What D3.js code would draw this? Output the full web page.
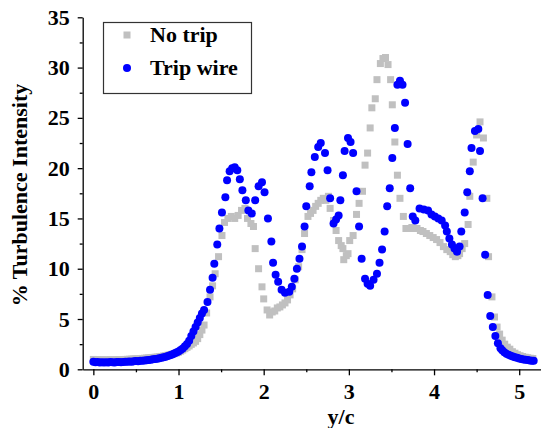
<!DOCTYPE html>
<html>
<head>
<meta charset="utf-8">
<script src="https://cdn.jsdelivr.net/npm/d3@7"></script>
<style>
  html, body { margin: 0; padding: 0; background: #fff; }
  svg { display: block; }
  text { font-family: "Liberation Serif", "Times New Roman", serif; font-weight: bold; fill: #000; }
</style>
</head>
<body>
<svg id="chart" width="552" height="428"></svg>
<script>
// Axis ticks
const xMajorTicks = [0, 1, 2, 3, 4, 5];
const xMinorTicks = [0.5, 1.5, 2.5, 3.5, 4.5];
const yMajorTicks = [0, 5, 10, 15, 20, 25, 30, 35];
const yMinorTicks = [2.5, 7.5, 12.5, 17.5, 22.5, 27.5, 32.5];

// Series names
const seriesNames = ["No trip", "Trip wire"];

// Trip wire: spanwise position y/c and turbulence intensity (%)
const tripPos = [
  0.000,0.025,0.050,0.075,0.100,0.125,0.150,0.175,0.200,0.225,0.250,0.275,0.300,0.325,0.350,0.375,0.400,0.425,0.450,0.475,
  0.500,0.525,0.550,0.575,0.600,0.625,0.650,0.675,0.700,0.725,0.750,0.775,0.800,0.825,0.850,0.875,0.900,0.925,0.950,0.975,
  1.000,1.025,1.050,1.075,1.100,1.125,1.150,1.175,1.200,1.225,1.250,1.275,1.300,
  1.34,1.37,1.40,1.42,1.455,1.48,1.51,1.55,1.57,1.60,1.63,1.66,1.69,1.72,1.75,1.79,1.82,1.86,1.90,1.94,1.98,
  2.01,2.05,2.09,2.11,2.14,2.17,2.21,2.25,2.30,2.33,2.36,2.39,2.42,2.45,2.48,2.50,2.54,2.56,2.60,2.64,2.67,2.72,2.75,2.78,
  2.82,2.85,2.88,2.90,2.93,2.95,2.99,3.02,3.05,3.09,3.12,3.15,3.19,3.22,3.25,3.29,3.33,3.36,3.39,3.42,3.45,3.48,3.51,3.54,
  3.57,3.60,3.63,3.66,3.69,3.72,3.75,3.78,3.83,3.88,3.93,3.97,4.01,4.05,4.09,4.13,4.15,4.18,4.21,4.24,4.27,4.30,4.32,4.36,
  4.39,4.42,4.44,4.48,4.52,4.54,4.57,4.60,4.63,4.66,4.69,4.72,4.75,4.78,4.80,4.825,4.85,4.875,4.90,4.925,4.95,4.975,
  5.00,5.025,5.05,5.075,5.10,5.125,5.15,5.17
];
const tripTI = [
  0.74,0.70,0.72,0.68,0.71,0.67,0.70,0.68,0.72,0.69,0.68,0.72,0.73,0.70,0.72,0.75,0.74,0.77,0.76,0.79,
  0.82,0.80,0.84,0.85,0.88,0.90,0.93,0.95,0.99,1.02,1.06,1.10,1.15,1.20,1.26,1.33,1.40,1.48,1.57,1.67,
  1.78,1.92,2.08,2.28,2.52,2.85,3.30,3.75,4.20,4.65,5.10,5.55,5.90,
  6.7,7.9,9.1,10.5,12.4,14.0,15.6,17.1,18.8,19.7,20.0,20.1,19.8,18.9,17.8,16.8,15.8,15.5,16.8,18.2,18.6,
  17.6,15.0,12.7,10.6,9.4,8.7,7.9,7.6,7.7,8.2,9.0,10.0,11.0,12.2,14.2,16.2,18.2,19.6,21.1,22.1,22.5,21.5,19.8,17.0,
  14.5,14.9,15.3,16.8,19.3,21.7,23.0,22.6,21.5,17.7,14.2,11.0,9.0,8.5,8.3,8.9,9.5,10.6,11.9,13.7,16.2,18.0,21.0,24.0,
  28.3,28.7,28.3,26.5,22.4,18.0,15.2,14.8,16.0,15.9,15.8,15.4,15.2,15.0,14.8,14.3,13.7,13.0,12.4,12.0,11.7,12.2,13.7,15.6,
  17.6,19.7,22.0,23.7,23.9,21.7,17.0,11.4,7.4,5.3,4.2,3.3,2.6,2.1,1.9,1.7,1.55,1.45,1.35,1.28,1.20,1.14,
  1.08,1.02,0.98,0.94,0.92,0.88,0.86,0.84
];

// No trip: spanwise position y/c and turbulence intensity (%)
const noTripPos = [
  0.000,0.025,0.050,0.075,0.100,0.125,0.150,0.175,0.200,0.225,0.250,0.275,0.300,0.325,0.350,0.375,0.400,0.425,0.450,0.475,
  0.500,0.525,0.550,0.575,0.600,0.625,0.650,0.675,0.700,0.725,0.750,0.775,0.800,0.825,0.850,0.875,0.900,0.925,0.950,0.975,
  1.000,1.025,1.050,1.075,1.100,1.125,1.150,1.175,1.200,1.225,1.250,1.275,1.300,
  1.33,1.37,1.40,1.43,1.47,1.51,1.54,1.58,1.62,1.66,1.70,1.74,1.78,1.81,1.85,1.88,1.90,1.94,1.98,
  2.00,2.04,2.07,2.10,2.13,2.16,2.19,2.22,2.25,2.28,2.31,2.34,2.37,2.41,2.45,2.48,2.52,2.55,2.58,2.61,2.64,2.67,2.70,2.73,2.76,2.78,
  2.82,2.85,2.88,2.91,2.93,2.94,2.97,2.99,3.01,3.05,3.09,3.12,3.16,3.19,3.22,3.25,3.27,3.31,3.33,3.37,3.40,3.43,3.46,3.49,
  3.51,3.54,3.57,3.60,3.64,3.67,3.70,3.74,3.77,3.80,3.84,3.87,3.91,3.95,3.99,4.03,4.07,4.11,4.15,4.19,4.22,4.25,4.28,4.30,
  4.33,4.36,4.40,4.42,4.46,4.50,4.54,4.58,4.62,4.64,4.68,4.71,4.74,4.77,4.80,4.83,4.86,4.89,4.92,4.95,4.98,
  5.01,5.04,5.07,5.10,5.13,5.16
];
const noTripTI = [
  0.98,0.95,0.96,0.93,0.95,0.92,0.94,0.93,0.95,0.92,0.94,0.96,0.95,0.97,0.96,0.98,0.99,1.00,1.01,1.03,
  1.05,1.04,1.07,1.08,1.10,1.12,1.14,1.16,1.18,1.20,1.22,1.25,1.28,1.32,1.36,1.40,1.45,1.50,1.56,1.62,
  1.70,1.80,1.92,2.05,2.18,2.32,2.48,2.62,2.78,3.05,3.45,3.90,4.40,
  5.6,7.2,8.3,9.5,11.2,13.3,14.6,15.0,15.2,15.0,15.3,15.8,16.0,15.0,14.5,14.2,12.0,10.0,8.2,
  7.0,5.9,5.4,5.7,5.8,6.1,6.2,6.4,6.6,6.9,7.4,8.0,8.9,10.2,11.9,13.5,15.2,15.5,15.8,16.2,16.5,16.8,17.0,16.8,17.2,16.0,
  14.8,13.8,12.8,12.3,12.0,10.9,11.3,11.5,12.8,13.3,15.4,16.5,17.7,20.3,21.5,24.0,26.0,26.9,28.8,30.4,30.9,31.0,30.3,28.8,
  26.3,22.6,19.3,17.0,15.2,14.0,14.0,14.1,14.0,14.0,13.8,13.7,13.5,13.3,13.1,12.9,12.6,12.2,11.9,11.7,11.4,11.2,11.3,11.5,
  12.0,12.5,14.4,17.2,20.6,23.3,24.6,23.0,17.0,11.2,7.2,5.2,4.2,3.5,2.9,2.5,2.2,2.0,1.75,1.6,1.45,
  1.35,1.27,1.2,1.15,1.1,1.07
];

const noTrip = noTripPos.map((p, i) => ({ p, v: noTripTI[i] }));
const trip = tripPos.map((p, i) => ({ p, v: tripTI[i] }));

const svg = d3.select("#chart");

const x = d3.scaleLinear().domain([-0.125, 5.25]).range([82.7, 540.5]);
const y = d3.scaleLinear().domain([0, 35]).range([369.3, 17.3]);

const FONT = "22px";

// Markers: grey squares first, blue dots on top
const SQ = 7;
svg.append("g")
  .selectAll("rect")
  .data(noTrip)
  .join("rect")
  .attr("x", d => x(d.p) - SQ / 2)
  .attr("y", d => y(d.v) - SQ / 2)
  .attr("width", SQ)
  .attr("height", SQ)
  .attr("fill", "#c0c0c0");

svg.append("g")
  .selectAll("circle")
  .data(trip)
  .join("circle")
  .attr("cx", d => x(d.p))
  .attr("cy", d => y(d.v))
  .attr("r", 4)
  .attr("fill", "#0000ff");

// Axes
function styleAxis(g) {
  g.selectAll("path.domain").attr("stroke", "#000").attr("stroke-width", 1.3);
  g.selectAll(".tick line").attr("stroke", "#000").attr("stroke-width", 1.3);
  g.selectAll(".tick text")
    .style("font-family", '"Liberation Serif", "Times New Roman", serif')
    .style("font-weight", "bold")
    .style("font-size", FONT)
    .attr("fill", "#000");
}

const xAxis = svg.append("g")
  .attr("transform", `translate(0,${y(0)})`)
  .call(d3.axisBottom(x).tickValues(xMajorTicks).tickFormat(d3.format("d"))
    .tickSize(6).tickSizeOuter(0).tickPadding(8));
styleAxis(xAxis);

const xMinor = svg.append("g")
  .attr("transform", `translate(0,${y(0)})`)
  .call(d3.axisBottom(x).tickValues(xMinorTicks).tickFormat("").tickSize(3).tickSizeOuter(0));
xMinor.select("path.domain").remove();
styleAxis(xMinor);

const yAxis = svg.append("g")
  .attr("transform", `translate(${x.range()[0]},0)`)
  .call(d3.axisLeft(y).tickValues(yMajorTicks).tickFormat(d3.format("d"))
    .tickSize(5).tickSizeOuter(0).tickPadding(8));
styleAxis(yAxis);

const yMinor = svg.append("g")
  .attr("transform", `translate(${x.range()[0]},0)`)
  .call(d3.axisLeft(y).tickValues(yMinorTicks).tickFormat("").tickSize(3).tickSizeOuter(0));
yMinor.select("path.domain").remove();
styleAxis(yMinor);

// Axis titles
svg.append("text")
  .attr("x", 341)
  .attr("y", 424)
  .attr("text-anchor", "middle")
  .style("font-size", FONT)
  .text("y/c");

svg.append("text")
  .attr("transform", "translate(27,195) rotate(-90)")
  .attr("text-anchor", "middle")
  .style("font-size", FONT)
  .text("% Turbulence Intensity");

// Legend
const legend = svg.append("g");
legend.append("rect")
  .attr("x", 103.5).attr("y", 22.5)
  .attr("width", 148).attr("height", 71)
  .attr("fill", "#fff").attr("stroke", "#333").attr("stroke-width", 1.2);
legend.append("rect")
  .attr("x", 127 - SQ / 2).attr("y", 35 - SQ / 2)
  .attr("width", SQ).attr("height", SQ)
  .attr("fill", "#c0c0c0");
legend.append("circle")
  .attr("cx", 127).attr("cy", 68).attr("r", 4)
  .attr("fill", "#0000ff");
legend.append("text")
  .attr("x", 150).attr("y", 42)
  .style("font-size", FONT)
  .text(seriesNames[0]);
legend.append("text")
  .attr("x", 150).attr("y", 75)
  .style("font-size", FONT)
  .text(seriesNames[1]);
</script>
</body>
</html>
